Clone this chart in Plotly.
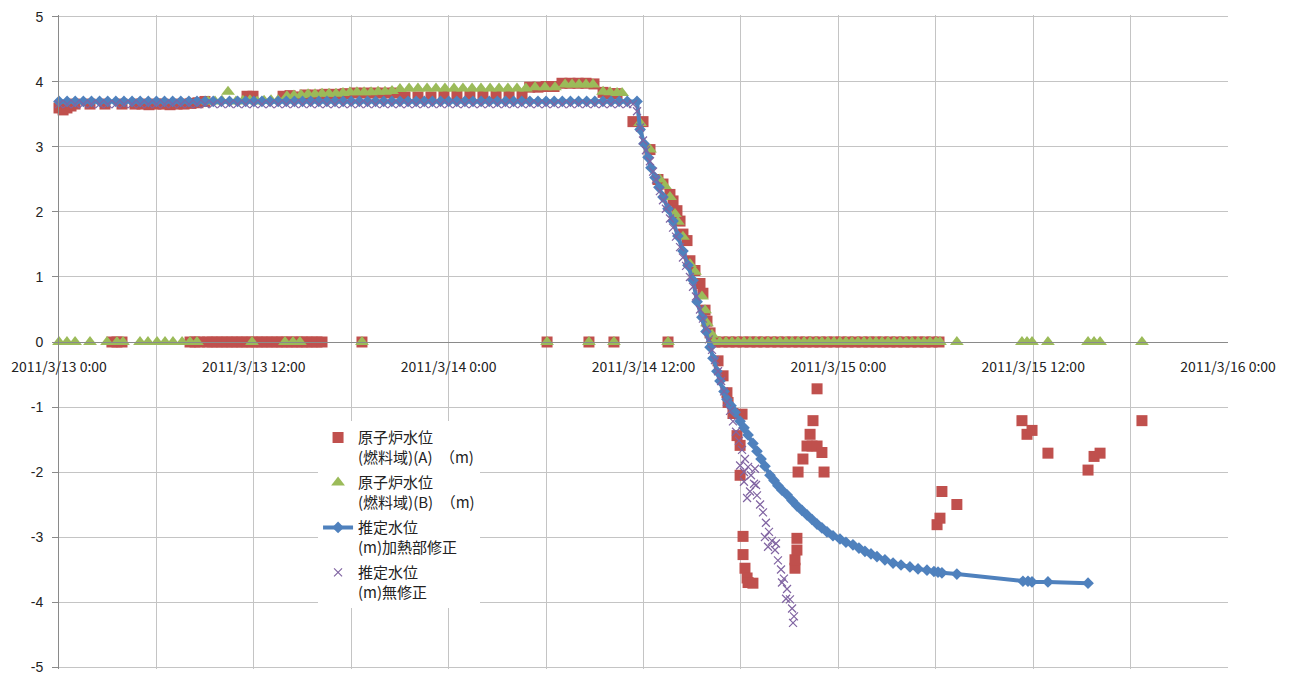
import pandas as pd
import plotly.graph_objects as go

BASE = pd.Timestamp("2011-03-13 00:00")

# ---------------- data (hours after 2011/3/13 0:00, level in m) ----------------
A_hours = [
    0.00, 0.25, 0.49, 0.74, 0.99, 1.91, 2.83, 3.88, 4.68, 5.11, 5.54, 5.97, 6.41, 6.84, 7.27, 7.70,
    8.13, 8.56, 8.99, 11.58, 11.95, 13.80, 14.23, 14.66, 15.15, 15.77, 16.38, 17.00, 17.62, 18.23,
    18.85, 19.46, 20.08, 20.69, 21.31, 22.11, 22.91, 23.71, 24.51, 25.31, 26.11, 26.92, 27.72, 28.52,
    28.99, 29.50, 30.00, 30.49, 30.98, 31.47, 31.97, 32.46, 32.95, 33.51, 33.94, 34.37,
    35.35, 35.97, 36.40, 36.89, 37.20, 37.63, 37.82, 38.06, 38.25, 38.43, 38.68, 38.86, 39.17, 39.48,
    39.66, 39.79, 39.91, 40.10, 40.59, 40.90, 41.14, 41.21, 41.51, 42.07, 41.76, 41.95, 41.95, 42.13,
    42.13, 42.25, 42.38, 42.44, 42.74,
    45.33, 45.33, 45.45, 45.45, 45.52, 45.82, 46.07, 46.38, 46.69, 46.26, 46.44, 46.69, 46.99, 47.12,
    54.08, 54.26, 54.38, 55.30, 59.31, 59.62, 59.93, 60.91, 63.38, 63.75, 64.12, 66.70,
    3.26, 3.57, 3.88, 8.07, 8.38, 8.68, 9.12, 9.42, 9.73, 10.04, 10.35, 10.66, 10.96, 11.27, 11.58,
    11.89, 12.20, 12.50, 12.81, 13.12, 13.43, 13.73, 14.04, 14.35, 14.66, 14.97, 15.27, 15.58, 15.89,
    16.20, 18.66, 30.06, 32.64, 34.18, 37.51,
    40.40, 40.84, 41.27, 41.70, 42.13, 42.56, 42.99, 43.42, 43.85, 44.28, 44.72, 45.15, 45.58, 46.01,
    46.44, 46.87, 47.30, 47.73, 48.16, 48.60, 49.03, 49.46, 49.89, 50.32, 50.75, 51.18, 51.61, 52.04,
    52.48, 52.91, 53.34, 53.77, 54.20,
]
A_level = [
    3.60, 3.57, 3.60, 3.63, 3.66, 3.66, 3.66, 3.66, 3.66, 3.66, 3.65, 3.66, 3.66, 3.65, 3.66, 3.66,
    3.67, 3.68, 3.70, 3.78, 3.78, 3.78, 3.79, 3.77, 3.80, 3.80, 3.81, 3.81, 3.82, 3.83,
    3.83, 3.83, 3.83, 3.83, 3.77, 3.77, 3.77, 3.78, 3.78, 3.78, 3.78, 3.78, 3.78, 3.78,
    3.92, 3.92, 3.93, 3.93, 3.98, 3.98, 3.98, 3.98, 3.97, 3.84, 3.82, 3.82,
    3.39, 3.39, 2.96, 2.50, 2.43, 2.27, 2.17, 2.02, 1.86, 1.66, 1.56, 1.25, 1.10, 0.90,
    0.75, 0.49, 0.32, 0.14, -0.29, -0.52, -0.78, -0.93, -1.10, -1.11, -1.44, -1.59, -2.05, -2.99,
    -3.27, -3.48, -3.63, -3.70, -3.71,
    -3.48, -3.35, -3.20, -3.02, -2.00, -1.80, -1.60, -1.60, -1.60, -1.42, -1.21, -0.72, -1.70, -2.00,
    -2.81, -2.71, -2.30, -2.50, -1.21, -1.42, -1.36, -1.71, -1.97, -1.76, -1.71, -1.21,
    0, 0, 0, 0, 0, 0, 0, 0, 0, 0, 0, 0, 0, 0, 0,
    0, 0, 0, 0, 0, 0, 0, 0, 0, 0, 0, 0, 0, 0,
    0, 0, 0, 0, 0, 0,
    0, 0, 0, 0, 0, 0, 0, 0, 0, 0, 0, 0, 0, 0,
    0, 0, 0, 0, 0, 0, 0, 0, 0, 0, 0, 0, 0, 0,
    0, 0, 0, 0, 0,
]

B_hours = [
    9.18, 9.61, 10.04, 10.41, 10.90, 11.33, 11.76, 12.20, 12.63, 13.06, 13.49, 14.04, 14.47, 14.91,
    15.34, 15.77, 16.20, 16.63, 17.06, 17.49, 17.92, 18.35, 18.79, 19.22, 19.65, 20.08, 20.51, 21.00,
    21.56, 22.11, 22.67, 23.22, 23.77, 24.33, 24.88, 25.44, 25.99, 26.55, 27.10, 27.65, 28.21, 28.76,
    29.32, 29.93, 30.55, 31.17, 31.60, 32.03, 32.46, 32.89, 33.51, 33.94, 34.37, 34.68,
    35.79, 36.40, 37.01, 37.32, 37.63, 37.94, 38.12, 38.43, 38.86, 39.17, 39.60, 39.79, 39.91, 40.22,
    0.00, 0.49, 0.99, 1.91, 2.96, 3.57, 3.94, 4.99, 5.48, 6.04, 6.53, 7.02, 7.58, 8.07, 8.50, 11.89,
    13.92, 14.41, 14.84, 18.66, 30.06, 32.64, 34.18, 37.51,
    40.34, 40.71, 41.08, 41.45, 41.82, 42.19, 42.56, 42.93, 43.30, 43.67, 44.04, 44.41, 44.78, 45.15,
    45.52, 45.89, 46.26, 46.63, 46.99, 47.36, 47.73, 48.10, 48.47, 48.84, 49.21, 49.58, 49.95, 50.32,
    50.69, 51.06, 51.43, 51.80, 52.17, 52.54, 52.91, 53.28, 53.65, 54.02, 54.26,
    55.30, 59.31, 59.62, 59.93, 60.91, 63.38, 63.75, 64.12, 66.70,
]
B_level = [
    3.70, 3.70, 3.71, 3.85, 3.70, 3.71, 3.72, 3.70, 3.71, 3.72, 3.72, 3.78, 3.79, 3.80,
    3.81, 3.81, 3.82, 3.82, 3.82, 3.83, 3.84, 3.84, 3.84, 3.84, 3.85, 3.85, 3.86, 3.89,
    3.90, 3.90, 3.90, 3.90, 3.90, 3.90, 3.90, 3.90, 3.90, 3.90, 3.90, 3.90, 3.90, 3.90,
    3.92, 3.92, 3.92, 3.96, 3.96, 3.96, 3.96, 3.96, 3.85, 3.84, 3.83, 3.83,
    3.37, 2.96, 2.50, 2.40, 2.23, 1.97, 1.85, 1.62, 1.20, 1.08, 0.70, 0.49, 0.29, 0.11,
    0, 0, 0, 0, 0, 0, 0, 0, 0, 0, 0, 0, 0, 0, 0, 0,
    0, 0, 0, 0, 0, 0, 0, 0,
    0, 0, 0, 0, 0, 0, 0, 0, 0, 0, 0, 0, 0, 0,
    0, 0, 0, 0, 0, 0, 0, 0, 0, 0, 0, 0, 0, 0,
    0, 0, 0, 0, 0, 0, 0, 0, 0, 0, 0,
    0, 0, 0, 0, 0, 0, 0, 0, 0,
]

EST_hours = [
    0.0, 0.5, 1.0, 1.5, 2.0, 2.5, 3.0, 3.5, 4.0, 4.5, 5.0, 5.5, 6.0, 6.5, 7.0, 7.5, 8.0, 8.5,
    9.0, 9.5, 10.0, 10.5, 11.0, 11.5, 12.0, 12.5, 13.0, 13.5, 14.0, 14.5, 15.0, 15.5, 16.0, 16.5,
    17.0, 17.5, 18.0, 18.5, 19.0, 19.5, 20.0, 20.5, 21.0, 21.5, 22.0, 22.5, 23.0, 23.5, 24.0, 24.5,
    25.0, 25.5, 26.0, 26.5, 27.0, 27.5, 28.0, 28.5, 29.0, 29.5, 30.0, 30.5, 31.0, 31.5, 32.0, 32.5,
    33.0, 33.5, 34.0, 34.5, 35.0, 35.6,
    35.79, 36.03, 36.28, 36.46, 36.71, 36.95, 37.20, 37.51, 37.82, 38.12, 38.43, 38.74, 39.05, 39.30,
    39.60, 39.85, 40.10, 40.28, 40.52, 40.71, 40.96, 41.14, 41.39, 41.64, 41.95,
    42.19, 42.44, 42.74, 42.99, 43.24, 43.48, 43.79, 44.04, 44.28, 44.53, 44.84, 45.15, 45.45, 45.76,
    46.07, 46.38, 46.69, 46.99, 47.30, 47.67, 48.10, 48.47, 48.90, 49.27, 49.64, 50.01, 50.38, 50.87,
    51.37, 51.86, 52.41, 52.91, 53.46, 53.89, 54.14, 54.38, 55.30, 59.37, 59.68, 59.93, 60.91, 63.38,
]
EST_level = [
    3.70, 3.70, 3.70, 3.70, 3.70, 3.70, 3.70, 3.70, 3.70, 3.70, 3.70, 3.70, 3.70, 3.70, 3.70, 3.70, 3.70, 3.70,
    3.70, 3.70, 3.70, 3.70, 3.70, 3.70, 3.70, 3.70, 3.70, 3.70, 3.70, 3.70, 3.70, 3.70, 3.70, 3.70,
    3.70, 3.70, 3.70, 3.70, 3.70, 3.70, 3.70, 3.70, 3.70, 3.70, 3.70, 3.70, 3.70, 3.70, 3.70, 3.70,
    3.70, 3.70, 3.70, 3.70, 3.70, 3.70, 3.70, 3.70, 3.70, 3.70, 3.70, 3.70, 3.70, 3.70, 3.70, 3.70,
    3.70, 3.70, 3.70, 3.70, 3.70, 3.70,
    3.27, 3.05, 2.84, 2.68, 2.53, 2.38, 2.23, 2.05, 1.86, 1.63, 1.40, 1.18, 0.95, 0.62,
    0.38, 0.16, -0.08, -0.25, -0.45, -0.60, -0.76, -0.88, -0.98, -1.08, -1.22,
    -1.32, -1.43, -1.56, -1.68, -1.80, -1.91, -2.05, -2.13, -2.21, -2.28, -2.35, -2.44, -2.52, -2.59,
    -2.66, -2.73, -2.80, -2.86, -2.92, -2.98, -3.03, -3.08, -3.12, -3.17, -3.22, -3.26, -3.30, -3.35,
    -3.40, -3.43, -3.46, -3.49, -3.51, -3.53, -3.54, -3.55, -3.57, -3.68, -3.68, -3.69, -3.69, -3.71,
]

RAW_hours = [
    0.0, 0.5, 1.0, 1.5, 2.0, 2.5, 3.0, 3.5, 4.0, 4.5, 5.0, 5.5, 6.0, 6.5, 7.0, 7.5, 8.0, 8.5,
    9.0, 9.5, 10.0, 10.5, 11.0, 11.5, 12.0, 12.5, 13.0, 13.5, 14.0, 14.5, 15.0, 15.5, 16.0, 16.5,
    17.0, 17.5, 18.0, 18.5, 19.0, 19.5, 20.0, 20.5, 21.0, 21.5, 22.0, 22.5, 23.0, 23.5, 24.0, 24.5,
    25.0, 25.5, 26.0, 26.5, 27.0, 27.5, 28.0, 28.5, 29.0, 29.5, 30.0, 30.5, 31.0, 31.5, 32.0, 32.5,
    33.0, 33.5, 34.0, 34.5, 35.0, 35.35,
    35.60, 35.79, 35.97, 36.15, 36.40, 36.59, 36.77, 37.01, 37.20, 37.38, 37.63, 37.82, 38.00, 38.25,
    38.43, 38.62, 38.86, 39.05, 39.23, 39.48, 39.66, 39.85, 40.03, 40.22, 40.40, 40.59, 40.78, 40.96,
    41.14, 41.33, 41.51, 41.70, 41.88, 42.07, 42.25, 42.44, 42.19, 42.62, 42.81, 42.56, 42.99, 43.18,
    43.36, 43.54, 43.73, 43.91, 44.10, 44.28, 44.47, 44.65, 44.84, 45.02, 45.15, 45.27, 45.21,
    41.95, 42.19, 42.38, 42.93, 42.87, 43.48, 43.67, 44.16, 44.53, 44.78,
]
RAW_level = [
    3.66, 3.66, 3.66, 3.66, 3.66, 3.66, 3.66, 3.66, 3.66, 3.66, 3.66, 3.66, 3.66, 3.66, 3.66, 3.66, 3.66, 3.66,
    3.66, 3.66, 3.66, 3.66, 3.66, 3.66, 3.66, 3.66, 3.66, 3.66, 3.66, 3.66, 3.66, 3.66, 3.66, 3.66,
    3.66, 3.66, 3.66, 3.66, 3.66, 3.66, 3.66, 3.66, 3.66, 3.66, 3.66, 3.66, 3.66, 3.66, 3.66, 3.66,
    3.66, 3.66, 3.66, 3.66, 3.66, 3.66, 3.66, 3.66, 3.66, 3.66, 3.66, 3.66, 3.66, 3.66, 3.66, 3.66,
    3.66, 3.66, 3.66, 3.66, 3.66, 3.66,
    3.55, 3.30, 3.10, 2.95, 2.78, 2.62, 2.50, 2.32, 2.18, 2.05, 1.90, 1.76, 1.62, 1.46,
    1.30, 1.17, 1.00, 0.85, 0.70, 0.50, 0.36, 0.20, 0.04, -0.12, -0.28, -0.45, -0.60, -0.76,
    -0.92, -1.06, -1.22, -1.38, -1.52, -1.66, -1.80, -1.92, -2.00, -2.05, -2.18, -2.30, -2.36, -2.50,
    -2.62, -2.78, -2.92, -3.06, -3.20, -3.36, -3.50, -3.64, -3.80, -3.96, -4.10, -4.22, -4.32,
    -1.90, -2.15, -2.40, -2.20, -1.95, -3.00, -3.15, -3.10, -3.70, -3.95,
]

TICK_hours = [0, 6, 12, 18, 24, 30, 36, 42, 48, 54, 60, 66, 72]
TICK_labels = ["2011/3/13 0:00", "", "2011/3/13 12:00", "", "2011/3/14 0:00", "",
               "2011/3/14 12:00", "", "2011/3/15 0:00", "", "2011/3/15 12:00", "",
               "2011/3/16 0:00"]
Y_ticks = [5, 4, 3, 2, 1, 0, -1, -2, -3, -4, -5]
Y_labels = ["5", "4", "3", "2", "1", "0", "-1", "-2", "-3", "-4", "-5"]

NAMES = ["原子炉水位<br>(燃料域)(A)　（m)", "原子炉水位<br>(燃料域)(B)　（m)",
         "推定水位<br>(m)加熱部修正", "推定水位<br>(m)無修正"]


def to_time(hours):
    return BASE + pd.to_timedelta(pd.Series(hours, dtype=float), unit="h")


FONT = "Noto Sans CJK JP, Noto Sans, sans-serif"
NUM_FONT = "Liberation Sans, Arial, sans-serif"

fig = go.Figure()
fig.add_trace(go.Scatter(
    x=to_time(A_hours), y=A_level, mode="markers", name=NAMES[0], legendgroup="a",
    cliponaxis=False, marker=dict(symbol="square", size=11, color="#C0504D")))
fig.add_trace(go.Scatter(
    x=to_time(B_hours), y=B_level, mode="markers", name=NAMES[1], legendgroup="b",
    cliponaxis=False, marker=dict(symbol="triangle-up", size=12, color="#9BBB59")))
fig.add_trace(go.Scatter(
    x=to_time(EST_hours), y=EST_level, mode="lines+markers", name=NAMES[2], legendgroup="c",
    cliponaxis=False, line=dict(color="#4F81BD", width=4),
    marker=dict(symbol="diamond", size=9, color="#4F81BD")))
fig.add_trace(go.Scatter(
    x=to_time(RAW_hours), y=RAW_level, mode="markers", name=NAMES[3], legendgroup="d",
    cliponaxis=False,
    marker=dict(symbol="x-thin-open", size=8, color="#8064A2",
                line=dict(color="#8064A2", width=1.2))))

tickvals = list(to_time(TICK_hours))

# The page body adds an 8px offset; margins compensate for it.  A tiny pad on
# the y range keeps the +/-5 gridlines inside the plot box so they are drawn.
fig.update_layout(
    width=1293, height=675,
    margin=dict(l=51, r=73, t=7, b=14),
    paper_bgcolor="white", plot_bgcolor="white",
    font=dict(family=FONT, size=14, color="#222222"),
    showlegend=True,
    legend=dict(x=0.2216, y=0.379, xanchor="left", yanchor="top",
                bgcolor="white", borderwidth=0, valign="top",
                font=dict(family=FONT, size=15, color="#222222"),
                tracegroupgap=3),
    xaxis=dict(
        range=[tickvals[0], tickvals[-1]],
        tickmode="array", tickvals=tickvals, ticktext=TICK_labels,
        showgrid=True, gridcolor="#C4C4C4", gridwidth=1,
        zeroline=False, showline=True, linecolor="#8A8A8A", linewidth=1,
        anchor="free", position=0.5, ticks="", ticklabelstandoff=12,
        tickangle=0, automargin=False, ticklabeloverflow="allow",
        tickfont=dict(family=FONT, size=14, color="#222222"),
    ),
    yaxis=dict(
        range=[-5.03, 5.03], tickmode="array", tickvals=Y_ticks, ticktext=Y_labels,
        showgrid=True, gridcolor="#C4C4C4", gridwidth=1,
        zeroline=False, showline=True, linecolor="#8A8A8A", linewidth=1,
        ticks="outside", ticklen=6, tickcolor="#8A8A8A", ticklabelstandoff=6,
        automargin=False, ticklabeloverflow="allow",
        tickfont=dict(family=NUM_FONT, size=14, color="#222222"),
    ),
)

fig.write_html("out.html")
